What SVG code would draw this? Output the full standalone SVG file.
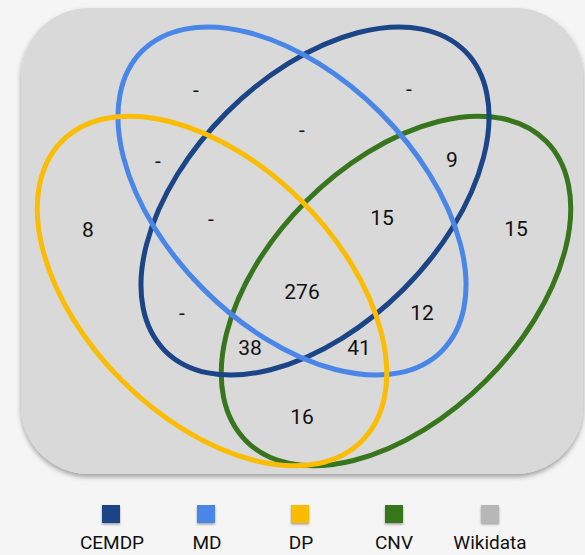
<svg xmlns="http://www.w3.org/2000/svg" width="585" height="555" viewBox="0 0 585 555">
<defs>
<filter id="sh" x="-10%" y="-10%" width="120%" height="125%">
<feDropShadow dx="0" dy="3" stdDeviation="2.5" flood-color="#000" flood-opacity="0.35"/>
</filter>
<filter id="sq" x="-30%" y="-30%" width="160%" height="170%">
<feDropShadow dx="0" dy="1.5" stdDeviation="1.2" flood-color="#000" flood-opacity="0.35"/>
</filter>
</defs>
<style>
.set{fill:none;stroke-width:5}
.n{font-family:Roboto,"Liberation Sans",sans-serif;font-size:21px;fill:#111;text-anchor:middle;dominant-baseline:central}
.lg{font-family:Roboto,"Liberation Sans",sans-serif;font-size:19px;fill:#111;text-anchor:middle}
</style>
<rect width="585" height="555" fill="#f5f5f5"/>
<g id="background">
<rect x="21" y="8" width="562" height="466" rx="68" ry="68" fill="#d9d9d9" filter="url(#sh)"/>
</g>
<g id="connectors">
<g id="CNV"><ellipse class="set" cx="396" cy="291" rx="212" ry="127" transform="rotate(-45 396 291)" stroke="#38761d"/></g>
<g id="CEMDP"><ellipse class="set" cx="315" cy="201" rx="212" ry="125" transform="rotate(-45 315 201)" stroke="#1c4587"/></g>
<g id="MD"><ellipse class="set" cx="292" cy="201" rx="212" ry="125" transform="rotate(45 292 201)" stroke="#4a86e8"/></g>
<g id="DP"><ellipse class="set" cx="212" cy="291" rx="212" ry="127" transform="rotate(45 212 291)" stroke="#fbbc04"/></g>
</g>
<g id="labels">
<text class="n" x="196" y="90">-</text>
<text class="n" x="409" y="89">-</text>
<text class="n" x="302" y="130">-</text>
<text class="n" x="158" y="161">-</text>
<text class="n" x="452" y="160">9</text>
<text class="n" x="88" y="230">8</text>
<text class="n" x="211" y="219">-</text>
<text class="n" x="382" y="218">15</text>
<text class="n" x="516" y="229">15</text>
<text class="n" x="302" y="292">276</text>
<text class="n" x="182" y="313">-</text>
<text class="n" x="422" y="313">12</text>
<text class="n" x="250" y="348">38</text>
<text class="n" x="359" y="348">41</text>
<text class="n" x="302" y="417">16</text>
</g>
<g id="legend">
<g id="lg-cemdp"><rect x="102" y="505" width="18" height="18" fill="#1c4587" filter="url(#sq)"/><text class="lg" x="112" y="549">CEMDP</text></g>
<g id="lg-md"><rect x="197" y="505" width="18" height="18" fill="#4a86e8" filter="url(#sq)"/><text class="lg" x="207" y="549">MD</text></g>
<g id="lg-dp"><rect x="291" y="505" width="18" height="18" fill="#fbbc04" filter="url(#sq)"/><text class="lg" x="301" y="549">DP</text></g>
<g id="lg-cnv"><rect x="385" y="505" width="18" height="18" fill="#38761d" filter="url(#sq)"/><text class="lg" x="394" y="549">CNV</text></g>
<g id="lg-wiki"><rect x="481" y="505" width="18" height="18" fill="#b7b7b7" filter="url(#sq)"/><text class="lg" x="490" y="549">Wikidata</text></g>
</g>
</svg>
